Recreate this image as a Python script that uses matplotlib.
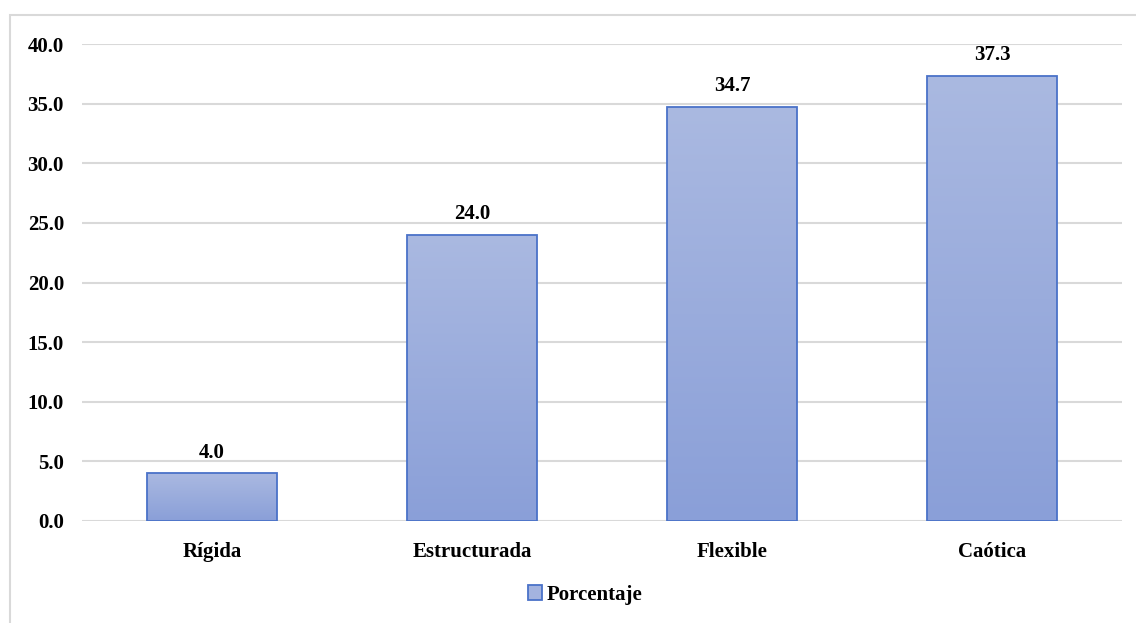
import numpy as np
import matplotlib.pyplot as plt
from matplotlib.patches import Rectangle
from matplotlib.colors import LinearSegmentedColormap

categorias = ['Rígida', 'Estructurada', 'Flexible', 'Caótica']
porcentajes = [4.0, 24.0, 34.7, 37.3]
yticks = [0, 5, 10, 15, 20, 25, 30, 35, 40]

plt.rcParams['font.family'] = ['Liberation Serif', 'DejaVu Serif']
plt.rcParams['font.weight'] = 'bold'

fig = plt.figure(figsize=(11.36, 6.23), dpi=100)
ax = fig.add_axes([82 / 1136, 1 - 521 / 623, 1040 / 1136, 477 / 623])

# outer chart frame
fig.patches.append(Rectangle((10 / 1136, -0.05), 1.1, 1 - 15 / 623 + 0.05,
                             transform=fig.transFigure, fill=False,
                             edgecolor='#d9d9d9', linewidth=1.5, zorder=0))

x = np.arange(len(categorias))
bars = ax.bar(x, porcentajes, width=0.5, color='none', edgecolor='#4a72c8',
              linewidth=1.3, zorder=3, label='Porcentaje')

# vertical gradient inside each bar
cmap = LinearSegmentedColormap.from_list('grad', ['#8a9fd8', '#aab9e1'])
grad = np.linspace(0, 1, 256).reshape(-1, 1)
for bar in bars:
    x0, w, h = bar.get_x(), bar.get_width(), bar.get_height()
    im = ax.imshow(grad, cmap=cmap, origin='lower', aspect='auto',
                   extent=[x0, x0 + w, 0, h], zorder=2)
    im.set_clip_path(bar)

for xi, v in zip(x, porcentajes):
    ax.text(xi, v + 0.9, f'{v:.1f}', ha='center', va='bottom',
            fontsize=15, fontweight='bold')

ax.set_xlim(-0.5, len(categorias) - 0.5)
ax.set_ylim(0, 40)
ax.set_yticks(yticks)
ax.set_yticklabels([f'{t:.1f}' for t in yticks], fontsize=15, fontweight='bold')
ax.set_xticks(x)
ax.set_xticklabels(categorias, fontsize=15, fontweight='bold')
ax.tick_params(axis='y', length=0, pad=13)
ax.tick_params(axis='x', length=0, pad=15)
ax.grid(axis='y', color='#d9d9d9', linewidth=1.5, zorder=0)
ax.set_axisbelow(True)
for s in ax.spines.values():
    s.set_visible(False)

handle = Rectangle((0, 0), 1, 1, facecolor='#a3b3df', edgecolor='#4a72c8', linewidth=1.3)
fig.legend([handle], ['Porcentaje'], loc='center', bbox_to_anchor=(585 / 1136, 1 - 595 / 623),
           frameon=False, prop={'size': 15, 'weight': 'bold'},
           handlelength=0.7, handleheight=0.7, handletextpad=0.2)

fig.savefig('out.png', dpi=100)
